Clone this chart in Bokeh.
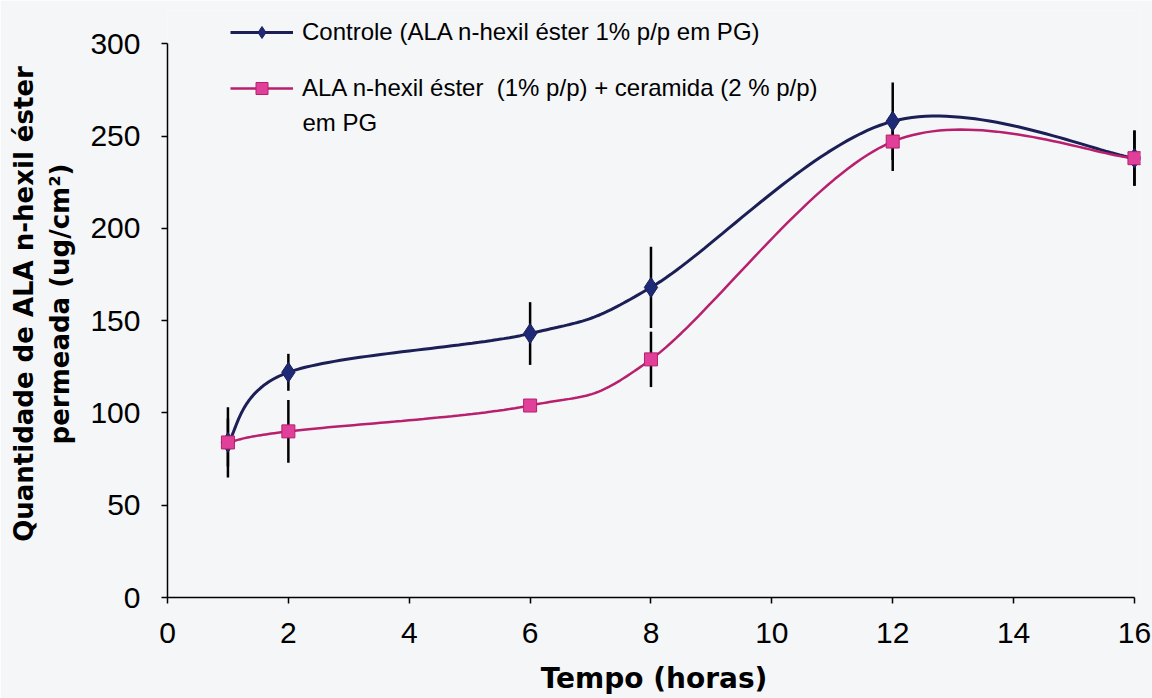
import numpy as np
from bokeh.plotting import figure
from bokeh.models import Range1d, Legend, LegendItem, FixedTicker, ColumnDataSource, Label
from bokeh.embed import file_html
from bokeh.resources import INLINE

# ---- data ----
tempo = [1, 2, 6, 8, 12, 16]
controle = [84, 122, 143, 168, 258, 238]
controle_err = [13, 10, 17, 22, 21, 15]
ceramida = [84, 90, 104, 129, 247, 238]
ceramida_err = [19, 17, 3, 15, 16, 15]
x_ticks = [0, 2, 4, 6, 8, 10, 12, 14, 16]
y_ticks = [0, 50, 100, 150, 200, 250, 300]
label_controle = "Controle (ALA n-hexil éster 1% p/p em PG)"
label_ceramida_1 = "ALA n-hexil éster  (1% p/p) + ceramida (2 % p/p)"
label_ceramida_2 = "em PG"
x_title = "Tempo (horas)"
y_title = "Quantidade de ALA n-hexil éster\npermeada (ug/cm²)"


def smooth(xs, ys, n=40):
    """Excel-like smoothed line: cubic Bezier with Catmull-Rom control points."""
    P = np.column_stack([xs, ys]).astype(float)
    m = len(P)
    out = []
    for i in range(m - 1):
        p0 = P[i - 1] if i > 0 else P[i]
        p1 = P[i]
        p2 = P[i + 1]
        p3 = P[i + 2] if i + 2 < m else P[i + 1]
        c1 = p1 + (p2 - p0) / 6.0
        c2 = p2 - (p3 - p1) / 6.0
        t = np.linspace(0, 1, n)[:, None]
        seg = ((1 - t) ** 3) * p1 + 3 * ((1 - t) ** 2) * t * c1 + 3 * (1 - t) * t ** 2 * c2 + t ** 3 * p2
        out.append(seg if i == 0 else seg[1:])
    s = np.vstack(out)
    return s[:, 0], s[:, 1]


BG = "#f4f6f8"
NAVY = "#1b1f55"
NAVY_M = "#1e2a78"
MAG = "#b81f6c"
MAG_M = "#e0409a"

p = figure(width=1152, height=698, output_backend="svg", toolbar_location=None,
           x_range=Range1d(0, 16.1), y_range=Range1d(0, 318),
           min_border_left=167, min_border_right=12, min_border_top=10, min_border_bottom=101)
p.background_fill_color = BG
p.border_fill_color = BG
p.outline_line_color = None
p.grid.visible = False

for ax in (p.xaxis[0], p.yaxis[0]):
    ax.axis_line_color = "black"
    ax.axis_line_width = 1.5
    ax.major_tick_line_color = "black"
    ax.major_tick_line_width = 1.5
    ax.major_tick_in = 0
    ax.major_tick_out = 6
    ax.minor_tick_line_color = None
    ax.major_label_text_font = "Liberation Sans"
    ax.major_label_text_font_size = "30px"
    ax.major_label_text_color = "black"
    ax.axis_label_text_font = "DejaVu Sans"
    ax.axis_label_text_font_style = "bold"
    ax.axis_label_text_color = "black"

p.xaxis.ticker = FixedTicker(ticks=x_ticks)
p.yaxis.ticker = FixedTicker(ticks=y_ticks)
p.xaxis.bounds = (0, 16)
p.yaxis.bounds = (0, 300)
p.xaxis.major_label_standoff = 19
p.yaxis.major_label_standoff = 21
p.xaxis.axis_label = x_title
p.xaxis.axis_label_text_font_size = "28px"
p.xaxis.axis_label_standoff = 16
p.yaxis.axis_label = y_title
p.yaxis.axis_label_text_font_size = "26px"
p.yaxis.axis_label_text_line_height = 1.2
p.yaxis.axis_label_standoff = 12

# error bars
src_c = ColumnDataSource(dict(x=tempo, y=controle,
                              lo=[v - e for v, e in zip(controle, controle_err)],
                              hi=[v + e for v, e in zip(controle, controle_err)]))
src_p = ColumnDataSource(dict(x=tempo, y=ceramida,
                              lo=[v - e for v, e in zip(ceramida, ceramida_err)],
                              hi=[v + e for v, e in zip(ceramida, ceramida_err)]))
p.segment(x0="x", y0="lo", x1="x", y1="hi", source=src_c, line_color="black", line_width=2.5)
p.segment(x0="x", y0="lo", x1="x", y1="hi", source=src_p, line_color="black", line_width=2.5)

cx, cy = smooth(tempo, controle)
px_, py_ = smooth(tempo, ceramida)
l_c = p.line(cx, cy, line_color=NAVY, line_width=3)
l_p = p.line(px_, py_, line_color=MAG, line_width=2.5)
m_c = p.scatter("x", "y", source=src_c, marker="diamond", size=20, fill_color=NAVY_M, line_color=NAVY)
m_p = p.scatter("x", "y", source=src_p, marker="square", size=13, fill_color=MAG_M, line_color=MAG)

legend = Legend(items=[LegendItem(label=label_controle, renderers=[l_c, m_c]),
                       LegendItem(label=label_ceramida_1, renderers=[l_p, m_p])],
                location=(63, 494), orientation="vertical",
                background_fill_alpha=0, border_line_color=None,
                label_text_font="Liberation Sans", label_text_font_size="24px",
                label_text_color="black", glyph_width=63, glyph_height=30,
                label_standoff=9, spacing=26, padding=0, margin=0)
p.add_layout(legend, "center")
p.add_layout(Label(x=135, y=475, x_units="screen", y_units="screen", text=label_ceramida_2,
                   text_align="left", text_baseline="middle",
                   text_font="Liberation Sans", text_font_size="24px", text_color="black"))

open("out.html", "w").write(file_html(p, INLINE))
